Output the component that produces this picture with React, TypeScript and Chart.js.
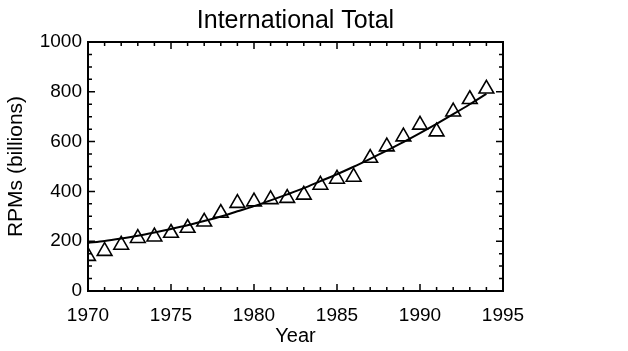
import { useEffect, useRef } from "react";
import { Chart, registerables } from "chart.js";

Chart.register(...registerables);

const chartTitle = "International Total";
const xAxisTitle = "Year";
const yAxisTitle = "RPMs (billions)";

const years = [
  1970, 1971, 1972, 1973, 1974, 1975, 1976, 1977, 1978, 1979, 1980, 1981, 1982,
  1983, 1984, 1985, 1986, 1987, 1988, 1989, 1990, 1991, 1992, 1993, 1994,
];
const rpms = [
  140, 160, 185, 212, 218, 233, 253, 278, 313, 353, 359, 368, 373, 386, 426,
  450, 458, 534, 580, 620, 667, 640, 720, 770, 812,
];
const fitRpms = [
  193, 201, 211, 222, 235, 249, 264, 281, 299, 320, 341, 364, 388, 413, 441,
  469, 499, 531, 564, 598, 634, 671, 710, 750, 792,
];

const xMin = 1970;
const xMax = 1995;
const xMajorStep = 5;
const xMinorStep = 1;
const yMin = 0;
const yMax = 1000;
const yMajorStep = 200;
const yMinorStep = 50;

const FONT = "'Liberation Sans', Arial, Helvetica, sans-serif";

const frameTicks = {
  id: "frameTicks",
  afterDatasetsDraw(chart: any) {
    const { ctx, chartArea, scales } = chart;
    const { left, right, top, bottom } = chartArea;
    const xs = scales.x;
    const ys = scales.y;
    ctx.save();
    ctx.strokeStyle = "#000";
    ctx.lineWidth = 1.5;
    for (let v = xMin; v <= xMax + 1e-9; v += xMinorStep) {
      const px = xs.getPixelForValue(v);
      const len = Math.abs((v - xMin) % xMajorStep) < 1e-9 ? 7 : 4;
      ctx.beginPath();
      ctx.moveTo(px, bottom);
      ctx.lineTo(px, bottom - len);
      ctx.moveTo(px, top);
      ctx.lineTo(px, top + len);
      ctx.stroke();
    }
    for (let v = yMin; v <= yMax + 1e-9; v += yMinorStep) {
      const py = ys.getPixelForValue(v);
      const len = Math.abs((v - yMin) % yMajorStep) < 1e-9 ? 7 : 4;
      ctx.beginPath();
      ctx.moveTo(left, py);
      ctx.lineTo(left + len, py);
      ctx.moveTo(right, py);
      ctx.lineTo(right - len, py);
      ctx.stroke();
    }
    ctx.lineWidth = 2;
    ctx.strokeRect(left, top, right - left, bottom - top);

    // title centred over the plot area
    ctx.fillStyle = "#000";
    ctx.font = `25px ${FONT}`;
    ctx.textAlign = "center";
    ctx.textBaseline = "middle";
    ctx.fillText(chartTitle, (left + right) / 2, 21);
    ctx.restore();
  },
};

export default function App() {
  const ref = useRef<HTMLCanvasElement | null>(null);

  useEffect(() => {
    if (!ref.current) return;
    const chart = new Chart(ref.current, {
      type: "scatter",
      data: {
        datasets: [
          {
            type: "line",
            label: "fit",
            data: years.map((y, i) => ({ x: y, y: fitRpms[i] })),
            borderColor: "#000",
            borderWidth: 2,
            pointRadius: 0,
            fill: false,
            tension: 0.3,
            clip: 0,
          },
          {
            type: "scatter",
            label: "RPMs",
            data: years.map((y, i) => ({ x: y, y: rpms[i] })),
            pointStyle: "triangle",
            pointRadius: 8.5,
            pointBackgroundColor: "rgba(255,255,255,0)",
            pointBorderColor: "#000",
            pointBorderWidth: 1.6,
            clip: 0,
          },
        ],
      } as any,
      options: {
        responsive: false,
        animation: false,
        layout: { padding: { left: 0, right: 125, top: 42, bottom: 0 } },
        plugins: {
          legend: { display: false },
          tooltip: { enabled: false },
          title: { display: false },
        },
        scales: {
          x: {
            type: "linear",
            min: xMin,
            max: xMax,
            grid: { display: false, drawTicks: false },
            border: { display: false },
            ticks: {
              stepSize: xMajorStep,
              color: "#000",
              font: { family: FONT, size: 19 },
              padding: 13,
              maxRotation: 0,
              callback: (v: any) => String(v),
            },
            title: {
              display: true,
              text: xAxisTitle,
              color: "#000",
              font: { family: FONT, size: 20 },
              padding: { top: 0, bottom: 3 },
            },
            afterFit: (s: any) => {
              s.height = 60;
            },
          },
          y: {
            type: "linear",
            min: yMin,
            max: yMax,
            grid: { display: false, drawTicks: false },
            border: { display: false },
            ticks: {
              stepSize: yMajorStep,
              color: "#000",
              font: { family: FONT, size: 19 },
              padding: 6,
              callback: (v: any) => String(v),
            },
            title: {
              display: true,
              text: yAxisTitle,
              color: "#000",
              font: { family: FONT, size: 21 },
              padding: { top: 4, bottom: 0 },
            },
            afterFit: (s: any) => {
              s.width = 88;
            },
          },
        },
      } as any,
      plugins: [frameTicks],
    });
    return () => chart.destroy();
  }, []);

  return (
    <div
      style={{
        position: "absolute",
        left: 0,
        top: 0,
        width: 628,
        height: 351,
        background: "#fff",
      }}
    >
      <canvas ref={ref} width={628} height={351} />
    </div>
  );
}
